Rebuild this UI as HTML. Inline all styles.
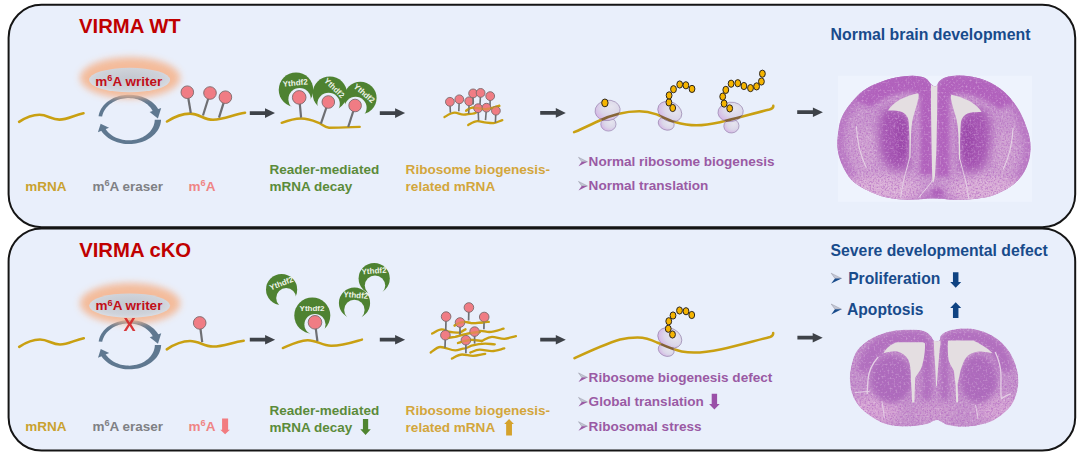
<!DOCTYPE html>
<html><head><meta charset="utf-8"><title>VIRMA</title>
<style>html,body{margin:0;padding:0;background:#fff;}svg{display:block;}
text{font-family:"Liberation Sans", sans-serif;font-weight:bold;}</style></head><body>
<svg width="1080" height="455" viewBox="0 0 1080 455">
<defs>
<filter id="glow" x="-30%" y="-60%" width="160%" height="220%"><feGaussianBlur stdDeviation="3.6"/></filter>
<radialGradient id="greyg" cx="0.5" cy="0.45" r="0.6"><stop offset="0" stop-color="#c3c7cf"/><stop offset="0.7" stop-color="#cfd3da"/><stop offset="1" stop-color="#dde0e7"/></radialGradient>
<radialGradient id="ribog" cx="0.62" cy="0.38" r="0.72" fx="0.66" fy="0.34"><stop offset="0" stop-color="#e6e5ef"/><stop offset="0.55" stop-color="#dbd7e9"/><stop offset="0.85" stop-color="#d6bde6"/><stop offset="1" stop-color="#d69ee2"/></radialGradient>
</defs>
<rect width="1080" height="455" fill="#fff"/>
<rect x="8.6" y="4.8" width="1066.6" height="222.4" rx="33" ry="33" fill="#e9effb" stroke="#151515" stroke-width="2"/>
<rect x="8.6" y="228.4" width="1066.6" height="222.2" rx="33" ry="33" fill="#e9effb" stroke="#151515" stroke-width="2"/>

<text x="79" y="33.1" font-size="20.3" fill="#c00000" >VIRMA WT</text>
<path d="M98.56,116.15 L98.86,114.59 L99.28,113.04 L99.84,111.52 L100.52,110.02 L101.33,108.57 L102.26,107.16 L103.30,105.79 L104.46,104.49 L105.73,103.24 L107.10,102.06 L108.57,100.96 L110.13,99.93 L111.77,98.98 L113.50,98.12 L115.29,97.35 L117.15,96.67 L119.06,96.09 L121.02,95.61 L123.01,95.22 L125.04,94.95 L127.09,94.77 L129.15,94.71 L131.22,94.74 L133.28,94.89 L135.32,95.14 L137.35,95.49 L139.34,95.95 L141.29,96.51 L143.19,97.17 L145.04,97.93 L146.82,98.78 L148.52,99.71 L150.15,100.74 L151.69,101.85 L153.13,103.03 L154.47,104.29 L155.71,105.62 L156.83,107.00 L157.83,108.44 L158.72,109.93 L152.87,111.51 L152.22,110.25 L151.46,109.03 L150.61,107.85 L149.66,106.71 L148.62,105.63 L147.49,104.61 L146.27,103.64 L144.98,102.75 L143.62,101.92 L142.19,101.16 L140.70,100.48 L139.16,99.88 L137.56,99.37 L135.93,98.94 L134.26,98.59 L132.57,98.34 L130.85,98.17 L129.13,98.10 L127.39,98.11 L125.67,98.22 L123.95,98.42 L122.24,98.71 L120.57,99.09 L118.92,99.56 L117.32,100.11 L115.76,100.75 L114.25,101.47 L112.80,102.26 L111.42,103.14 L110.12,104.08 L108.89,105.09 L107.74,106.17 L106.69,107.30 L105.72,108.49 L104.86,109.73 L104.10,111.01 L103.44,112.33 L102.89,113.69 L102.45,115.07 L102.13,116.47 Z" fill="#5f7890"/>
<path d="M161.16,107.99 L157.88,118.50 L149.65,111.98 Z" fill="#5f7890"/>
<path d="M161.05,119.74 L160.92,121.40 L160.66,123.06 L160.25,124.69 L159.70,126.31 L159.02,127.88 L158.21,129.42 L157.26,130.92 L156.20,132.36 L155.01,133.74 L153.70,135.05 L152.29,136.30 L150.78,137.47 L149.17,138.55 L147.47,139.55 L145.69,140.46 L143.84,141.27 L141.92,141.99 L139.95,142.60 L137.93,143.11 L135.87,143.51 L133.79,143.81 L131.68,143.99 L129.57,144.07 L127.45,144.03 L125.35,143.88 L123.26,143.63 L121.20,143.27 L119.17,142.80 L117.20,142.22 L115.27,141.55 L113.41,140.77 L111.62,139.90 L109.91,138.94 L108.29,137.90 L106.76,136.77 L105.33,135.56 L104.00,134.29 L102.79,132.94 L101.70,131.54 L100.73,130.08 L105.32,128.59 L106.15,129.84 L107.09,131.04 L108.12,132.18 L109.25,133.27 L110.46,134.29 L111.75,135.24 L113.12,136.13 L114.56,136.93 L116.06,137.66 L117.62,138.30 L119.22,138.86 L120.87,139.34 L122.55,139.72 L124.26,140.01 L125.99,140.21 L127.72,140.31 L129.47,140.33 L131.20,140.24 L132.93,140.07 L134.64,139.80 L136.32,139.44 L137.96,139.00 L139.57,138.46 L141.12,137.84 L142.62,137.14 L144.06,136.36 L145.42,135.50 L146.72,134.57 L147.93,133.58 L149.06,132.52 L150.09,131.41 L151.03,130.24 L151.88,129.03 L152.62,127.77 L153.25,126.47 L153.77,125.15 L154.19,123.80 L154.49,122.43 L154.67,121.05 L154.75,119.66 Z" fill="#5f7890"/>
<path d="M97.92,132.36 L100.63,123.67 L109.05,127.74 Z" fill="#5f7890"/>
<ellipse cx="130.1" cy="77.8" rx="50" ry="20.5" fill="#f5b793" filter="url(#glow)" opacity="0.92"/>
<ellipse cx="129.6" cy="80" rx="40.5" ry="12.2" fill="url(#greyg)"/>
<text x="95.3" y="85.7" font-size="13.5" fill="#c20f19">m<tspan font-size="9.18" dy="-4.86">6</tspan><tspan dy="4.86">A writer</tspan></text>
<path d="M19.1,121.9 C27.22,116.575 32.295,114.8 39.4,114.8 C47.4,114.8 51.4,119.6 59.4,119.6 C67.835,119.6 73.86,115.19 83.5,113.3" fill="none" stroke="#c9a012" stroke-width="2.6" stroke-linecap="round"/>
<path d="M167,121.5 C176.2,115.57499999999999 181.95,113.6 190,113.6 C199.2,113.6 203.8,119.8 213,119.8 C224.2,119.8 232.2,114.89999999999999 245,112.8" fill="none" stroke="#c9a012" stroke-width="2.6" stroke-linecap="round"/>
<line x1="187.3" y1="92.2" x2="190.8" y2="113" stroke="#6e6f73" stroke-width="2.2"/>
<circle cx="187.3" cy="92.2" r="6.3" fill="#f07c84" stroke="#7a6a6c" stroke-width="0.9"/>
<line x1="210" y1="93" x2="203" y2="115.5" stroke="#6e6f73" stroke-width="2.2"/>
<circle cx="210" cy="93" r="6.3" fill="#f07c84" stroke="#7a6a6c" stroke-width="0.9"/>
<line x1="225.4" y1="97.2" x2="219" y2="117.7" stroke="#6e6f73" stroke-width="2.2"/>
<circle cx="225.4" cy="97.2" r="6.3" fill="#f07c84" stroke="#7a6a6c" stroke-width="0.9"/>
<path d="M249.8,111.25 H265.0 V108.3 L275,113.1 L265.0,117.89999999999999 V114.94999999999999 H249.8 Z" fill="#3e4248"/>
<path d="M281.7,122.8 C288,120.5 294,118.6 301,118.5 C309,118.5 314,121 319.6,123.2 C323,125 325,127.5 329,127.7 C340,127.7 350,127.2 359.7,126.9" fill="none" stroke="#c9a012" stroke-width="2.4" stroke-linecap="round"/>
<mask id="m19" maskUnits="userSpaceOnUse" x="0" y="0" width="1080" height="455"><rect width="1080" height="455" fill="#fff"/><circle cx="299.6" cy="99.2" r="11.2" fill="#000"/></mask>
<circle cx="296" cy="89.8" r="17.3" fill="#4e8231" mask="url(#m19)"/>
<text x="295.45" y="85.57" font-size="8.0" fill="#eef4e8" text-anchor="middle" transform="rotate(-5 295.45 85.57)">Ythdf2</text>
<line x1="299.2" y1="97.4" x2="301.1" y2="117.7" stroke="#6e6f73" stroke-width="2.2"/>
<circle cx="299.2" cy="97.4" r="6.8" fill="#f07c84" stroke="#7a6a6c" stroke-width="0.9"/>
<mask id="m24" maskUnits="userSpaceOnUse" x="0" y="0" width="1080" height="455"><rect width="1080" height="455" fill="#fff"/><circle cx="328.6" cy="104" r="11.2" fill="#000"/></mask>
<circle cx="329.8" cy="93.6" r="17.2" fill="#4e8231" mask="url(#m24)"/>
<text x="332.50" y="89.87" font-size="8.0" fill="#eef4e8" text-anchor="middle" transform="rotate(44 332.50 89.87)">Ythdf2</text>
<line x1="328.3" y1="102" x2="320.9" y2="123.7" stroke="#6e6f73" stroke-width="2.2"/>
<circle cx="328.3" cy="102" r="6.3" fill="#f07c84" stroke="#7a6a6c" stroke-width="0.9"/>
<mask id="m29" maskUnits="userSpaceOnUse" x="0" y="0" width="1080" height="455"><rect width="1080" height="455" fill="#fff"/><circle cx="355.6" cy="107.8" r="11" fill="#000"/></mask>
<circle cx="360.3" cy="98" r="16.3" fill="#4e8231" mask="url(#m29)"/>
<text x="362.51" y="95.37" font-size="8.0" fill="#eef4e8" text-anchor="middle" transform="rotate(41 362.51 95.37)">Ythdf2</text>
<line x1="355.1" y1="105.5" x2="348.2" y2="127" stroke="#6e6f73" stroke-width="2.2"/>
<circle cx="355.1" cy="105.5" r="6.3" fill="#f07c84" stroke="#7a6a6c" stroke-width="0.9"/>
<path d="M379.8,111.25 H395.1 V108.3 L405.1,113.1 L395.1,117.89999999999999 V114.94999999999999 H379.8 Z" fill="#3e4248"/>
<path d="M444.5,117.1 C448,115 451,112.7 454.8,112.7 C458,112.7 460,114.7 463.7,114.7 C467,114.7 469,113.7 472.6,113.7 C474.5,113.5 476,112.5 477.6,111.7" fill="none" stroke="#c9a012" stroke-width="2.3" stroke-linecap="round"/>
<path d="M468.2,125.1 C471,123.5 474,121.1 477.6,121.1 C481,121.1 483,122.6 486.5,122.6 C489,122.9 491,123.1 493.4,123.1 C497,122.5 499.5,121 502.3,120.1" fill="none" stroke="#c9a012" stroke-width="2.3" stroke-linecap="round"/>
<path d="M466.2,110.7 C468.5,109 470,107.7 472.6,107.7 C478,107.8 482,109.5 487,109 C492,108.5 496,107 499.3,105.8" fill="none" stroke="#c9a012" stroke-width="2.3" stroke-linecap="round"/>
<line x1="449.9" y1="101.8" x2="450.4" y2="112.7" stroke="#6e6f73" stroke-width="1.6"/>
<circle cx="449.9" cy="101.8" r="4.4" fill="#f07c84" stroke="#7a6a6c" stroke-width="0.9"/>
<line x1="459.3" y1="99.3" x2="458.8" y2="111.2" stroke="#6e6f73" stroke-width="1.6"/>
<circle cx="459.3" cy="99.3" r="4.4" fill="#f07c84" stroke="#7a6a6c" stroke-width="0.9"/>
<line x1="469.2" y1="101.3" x2="468.7" y2="113.7" stroke="#6e6f73" stroke-width="1.6"/>
<circle cx="469.2" cy="101.3" r="4.4" fill="#f07c84" stroke="#7a6a6c" stroke-width="0.9"/>
<line x1="473.1" y1="93.4" x2="473.1" y2="104.5" stroke="#6e6f73" stroke-width="1.6"/>
<circle cx="473.1" cy="93.4" r="4.4" fill="#f07c84" stroke="#7a6a6c" stroke-width="0.9"/>
<line x1="480.6" y1="92.9" x2="480.0" y2="104.8" stroke="#6e6f73" stroke-width="1.6"/>
<circle cx="480.6" cy="92.9" r="4.4" fill="#f07c84" stroke="#7a6a6c" stroke-width="0.9"/>
<line x1="490.2" y1="96.1" x2="490" y2="108" stroke="#6e6f73" stroke-width="1.6"/>
<circle cx="490.2" cy="96.1" r="4.4" fill="#f07c84" stroke="#7a6a6c" stroke-width="0.9"/>
<line x1="478.1" y1="108.2" x2="478.6" y2="120.6" stroke="#6e6f73" stroke-width="1.6"/>
<circle cx="478.1" cy="108.2" r="4.4" fill="#f07c84" stroke="#7a6a6c" stroke-width="0.9"/>
<line x1="486.5" y1="107.7" x2="485.5" y2="120.1" stroke="#6e6f73" stroke-width="1.6"/>
<circle cx="486.5" cy="107.7" r="4.4" fill="#f07c84" stroke="#7a6a6c" stroke-width="0.9"/>
<line x1="495.9" y1="110.7" x2="495.4" y2="122.6" stroke="#6e6f73" stroke-width="1.6"/>
<circle cx="495.9" cy="110.7" r="4.4" fill="#f07c84" stroke="#7a6a6c" stroke-width="0.9"/>
<path d="M466.2,110.7 C468.5,109 470,107.7 472.6,107.7 C478,107.8 482,109.5 487,109 C492,108.5 496,107 499.3,105.8" fill="none" stroke="#c9a012" stroke-width="2.3" stroke-linecap="round" opacity="0.45"/>
<path d="M540.2,111.05000000000001 H555.8 V108.10000000000001 L565.8,112.9 L555.8,117.7 V114.75 H540.2 Z" fill="#3e4248"/>
<path d="M574.1,132.2 C584,128 592,124 598.6,121 C606,117.5 612,115.5 618.9,113.8 C626,112 632,111.3 639.3,111.3 C646,111.3 651,112.5 656.6,114.4 C663,117 668,120 674.9,122 C682,124 689,125.3 696.3,125.3 C705,125.3 712,124 720,122.2 C738,118 755,113 769.5,109.5 C772.5,108.7 773.5,107.5 773.3,105.8" fill="none" stroke="#c9a012" stroke-width="2.5" stroke-linecap="round"/>
<ellipse cx="608.4" cy="124.2" rx="7.6" ry="6.9" transform="rotate(0 608.4 124.2)" fill="url(#ribog)" stroke="#9a88b0" stroke-width="0.7"/>
<ellipse cx="607.6" cy="110.4" rx="12.6" ry="10.2" transform="rotate(-8 607.6 110.4)" fill="url(#ribog)" stroke="#9a88b0" stroke-width="0.7"/>
<ellipse cx="666.2" cy="123.6" rx="8.2" ry="6.3" transform="rotate(22 666.2 123.6)" fill="url(#ribog)" stroke="#9a88b0" stroke-width="0.7"/>
<ellipse cx="669.8" cy="111.6" rx="12.6" ry="9.6" transform="rotate(28 669.8 111.6)" fill="url(#ribog)" stroke="#9a88b0" stroke-width="0.7"/>
<ellipse cx="731.4" cy="126" rx="7.6" ry="7" transform="rotate(-4 731.4 126)" fill="url(#ribog)" stroke="#9a88b0" stroke-width="0.7"/>
<ellipse cx="730.6" cy="111.9" rx="12.7" ry="9.7" transform="rotate(-6 730.6 111.9)" fill="url(#ribog)" stroke="#9a88b0" stroke-width="0.7"/>
<clipPath id="rc1"><ellipse cx="607.6" cy="110.4" rx="12.6" ry="10.2" transform="rotate(-8 607.6 110.4)"/><ellipse cx="608.4" cy="124.2" rx="7.6" ry="6.9" transform="rotate(0 608.4 124.2)"/><ellipse cx="669.8" cy="111.6" rx="12.6" ry="9.6" transform="rotate(28 669.8 111.6)"/><ellipse cx="666.2" cy="123.6" rx="8.2" ry="6.3" transform="rotate(22 666.2 123.6)"/><ellipse cx="730.6" cy="111.9" rx="12.7" ry="9.7" transform="rotate(-6 730.6 111.9)"/><ellipse cx="731.4" cy="126" rx="7.6" ry="7" transform="rotate(-4 731.4 126)"/></clipPath>
<path d="M574.1,132.2 C584,128 592,124 598.6,121 C606,117.5 612,115.5 618.9,113.8 C626,112 632,111.3 639.3,111.3 C646,111.3 651,112.5 656.6,114.4 C663,117 668,120 674.9,122 C682,124 689,125.3 696.3,125.3 C705,125.3 712,124 720,122.2 C738,118 755,113 769.5,109.5 C772.5,108.7 773.5,107.5 773.3,105.8" fill="none" stroke="#7d5a25" stroke-width="2.5" clip-path="url(#rc1)" opacity="0.9"/>
<ellipse cx="604.9" cy="102.9" rx="3.2" ry="3.9" fill="#f5b400" stroke="#2b2520" stroke-width="1"/>
<ellipse cx="672.7" cy="108" rx="2.9" ry="3.6" fill="#f5b400" stroke="#2b2520" stroke-width="1"/>
<ellipse cx="668.9" cy="102.4" rx="2.9" ry="3.6" fill="#f5b400" stroke="#2b2520" stroke-width="1"/>
<ellipse cx="669.1" cy="95.4" rx="2.9" ry="3.6" fill="#f5b400" stroke="#2b2520" stroke-width="1"/>
<ellipse cx="673.5" cy="89.2" rx="2.9" ry="3.6" fill="#f5b400" stroke="#2b2520" stroke-width="1"/>
<ellipse cx="679.7" cy="84.5" rx="2.9" ry="3.6" fill="#f5b400" stroke="#2b2520" stroke-width="1"/>
<ellipse cx="685.9" cy="85.3" rx="2.9" ry="3.6" fill="#f5b400" stroke="#2b2520" stroke-width="1"/>
<ellipse cx="692" cy="88.9" rx="2.9" ry="3.6" fill="#f5b400" stroke="#2b2520" stroke-width="1"/>
<ellipse cx="729.7" cy="108.4" rx="2.9" ry="3.6" fill="#f5b400" stroke="#2b2520" stroke-width="1"/>
<ellipse cx="724.1" cy="103.6" rx="2.9" ry="3.6" fill="#f5b400" stroke="#2b2520" stroke-width="1"/>
<ellipse cx="722.7" cy="96.6" rx="2.9" ry="3.6" fill="#f5b400" stroke="#2b2520" stroke-width="1"/>
<ellipse cx="725.8" cy="89.9" rx="2.9" ry="3.6" fill="#f5b400" stroke="#2b2520" stroke-width="1"/>
<ellipse cx="731.1" cy="83.7" rx="2.9" ry="3.6" fill="#f5b400" stroke="#2b2520" stroke-width="1"/>
<ellipse cx="737.8" cy="83.2" rx="2.9" ry="3.6" fill="#f5b400" stroke="#2b2520" stroke-width="1"/>
<ellipse cx="743.9" cy="86" rx="2.9" ry="3.6" fill="#f5b400" stroke="#2b2520" stroke-width="1"/>
<ellipse cx="750.5" cy="88.1" rx="2.9" ry="3.6" fill="#f5b400" stroke="#2b2520" stroke-width="1"/>
<ellipse cx="756.6" cy="86.4" rx="2.9" ry="3.6" fill="#f5b400" stroke="#2b2520" stroke-width="1"/>
<ellipse cx="761.4" cy="81.5" rx="2.9" ry="3.6" fill="#f5b400" stroke="#2b2520" stroke-width="1"/>
<ellipse cx="762.4" cy="73.7" rx="2.9" ry="3.6" fill="#f5b400" stroke="#2b2520" stroke-width="1"/>
<path d="M797.2,110.35000000000001 H812.9 V107.4 L822.9,112.2 L812.9,117.0 V114.05 H797.2 Z" fill="#3e4248"/>
<text x="25.2" y="190.8" font-size="13.5" fill="#c9a230" >mRNA</text>
<text x="92.4" y="190.8" font-size="13.5" fill="#7f8084">m<tspan font-size="9.18" dy="-4.86">6</tspan><tspan dy="4.86">A eraser</tspan></text>
<text x="188.6" y="190.8" font-size="13.5" fill="#ef8585">m<tspan font-size="9.18" dy="-4.86">6</tspan><tspan dy="4.86">A</tspan></text>
<text x="269.6" y="174.4" font-size="13.5" fill="#5b8b3a" >Reader-mediated</text>
<text x="269.6" y="191" font-size="13.5" fill="#5b8b3a" >mRNA decay</text>
<text x="405.6" y="174.4" font-size="13.55" fill="#d3a63c" >Ribosome biogenesis-</text>
<text x="405.6" y="191" font-size="13.55" fill="#d3a63c" >related mRNA</text>
<path d="M578.5,157.3 L587.5,161.8 L581.74,161.8 Z" fill="#9a9aa8" opacity="0.45"/>
<path d="M578.5,157.3 L587.5,161.8 L581.74,161.8 Z" fill="none" stroke="#7a7a8a" stroke-width="0.6" opacity="0.6"/>
<path d="M578.5,166.3 L587.5,161.8 L581.74,161.8 Z" fill="#9a5aa4"/>
<text x="588.6" y="166.3" font-size="13.55" fill="#9a5aa4" >Normal ribosome biogenesis</text>
<path d="M578.5,181.4 L587.5,185.9 L581.74,185.9 Z" fill="#9a9aa8" opacity="0.45"/>
<path d="M578.5,181.4 L587.5,185.9 L581.74,185.9 Z" fill="none" stroke="#7a7a8a" stroke-width="0.6" opacity="0.6"/>
<path d="M578.5,190.4 L587.5,185.9 L581.74,185.9 Z" fill="#9a5aa4"/>
<text x="588.6" y="190.4" font-size="13.55" fill="#9a5aa4" >Normal translation</text>
<text x="830.6" y="39.8" font-size="15.85" fill="#184b8b" >Normal brain development</text>
<text x="79.2" y="257" font-size="20.3" fill="#c00000" >VIRMA cKO</text>
<path d="M98.66,341.45 L98.96,339.89 L99.38,338.34 L99.94,336.82 L100.62,335.32 L101.43,333.87 L102.36,332.46 L103.40,331.09 L104.56,329.79 L105.83,328.54 L107.20,327.36 L108.67,326.26 L110.23,325.23 L111.87,324.28 L113.60,323.42 L115.39,322.65 L117.25,321.97 L119.16,321.39 L121.12,320.91 L123.11,320.52 L125.14,320.25 L127.19,320.07 L129.25,320.01 L131.32,320.04 L133.38,320.19 L135.42,320.44 L137.45,320.79 L139.44,321.25 L141.39,321.81 L143.29,322.47 L145.14,323.23 L146.92,324.08 L148.62,325.01 L150.25,326.04 L151.79,327.15 L153.23,328.33 L154.57,329.59 L155.81,330.92 L156.93,332.30 L157.93,333.74 L158.82,335.23 L152.97,336.81 L152.32,335.55 L151.56,334.33 L150.71,333.15 L149.76,332.01 L148.72,330.93 L147.59,329.91 L146.37,328.94 L145.08,328.05 L143.72,327.22 L142.29,326.46 L140.80,325.78 L139.26,325.18 L137.66,324.67 L136.03,324.24 L134.36,323.89 L132.67,323.64 L130.95,323.47 L129.23,323.40 L127.49,323.41 L125.77,323.52 L124.05,323.72 L122.34,324.01 L120.67,324.39 L119.02,324.86 L117.42,325.41 L115.86,326.05 L114.35,326.77 L112.90,327.56 L111.52,328.44 L110.22,329.38 L108.99,330.39 L107.84,331.47 L106.79,332.60 L105.82,333.79 L104.96,335.03 L104.20,336.31 L103.54,337.63 L102.99,338.99 L102.55,340.37 L102.23,341.77 Z" fill="#5f7890"/>
<path d="M161.26,333.29 L157.98,343.80 L149.75,337.28 Z" fill="#5f7890"/>
<path d="M161.15,345.04 L161.02,346.70 L160.76,348.36 L160.35,349.99 L159.80,351.61 L159.12,353.18 L158.31,354.72 L157.36,356.22 L156.30,357.66 L155.11,359.04 L153.80,360.35 L152.39,361.60 L150.88,362.77 L149.27,363.85 L147.57,364.85 L145.79,365.76 L143.94,366.57 L142.02,367.29 L140.05,367.90 L138.03,368.41 L135.97,368.81 L133.89,369.11 L131.78,369.29 L129.67,369.37 L127.55,369.33 L125.45,369.18 L123.36,368.93 L121.30,368.57 L119.27,368.10 L117.30,367.52 L115.37,366.85 L113.51,366.07 L111.72,365.20 L110.01,364.24 L108.39,363.20 L106.86,362.07 L105.43,360.86 L104.10,359.59 L102.89,358.24 L101.80,356.84 L100.83,355.38 L105.42,353.89 L106.25,355.14 L107.19,356.34 L108.22,357.48 L109.35,358.57 L110.56,359.59 L111.85,360.54 L113.22,361.43 L114.66,362.23 L116.16,362.96 L117.72,363.60 L119.32,364.16 L120.97,364.64 L122.65,365.02 L124.36,365.31 L126.09,365.51 L127.82,365.61 L129.57,365.63 L131.30,365.54 L133.03,365.37 L134.74,365.10 L136.42,364.74 L138.06,364.30 L139.67,363.76 L141.22,363.14 L142.72,362.44 L144.16,361.66 L145.52,360.80 L146.82,359.87 L148.03,358.88 L149.16,357.82 L150.19,356.71 L151.13,355.54 L151.98,354.33 L152.72,353.07 L153.35,351.77 L153.87,350.45 L154.29,349.10 L154.59,347.73 L154.77,346.35 L154.85,344.96 Z" fill="#5f7890"/>
<path d="M98.02,357.66 L100.73,348.97 L109.15,353.04 Z" fill="#5f7890"/>
<ellipse cx="130.1" cy="303.40000000000003" rx="50" ry="20.5" fill="#f5b793" filter="url(#glow)" opacity="0.92"/>
<ellipse cx="129.6" cy="305.6" rx="40.5" ry="12.2" fill="url(#greyg)"/>
<text x="95.5" y="310.4" font-size="13.5" fill="#c20f19">m<tspan font-size="9.18" dy="-4.86">6</tspan><tspan dy="4.86">A writer</tspan></text>
<text x="129.6" y="331.4" font-size="18.2" fill="#d6282a" text-anchor="middle" opacity="0.92">X</text>
<path d="M19.2,346.8 C27.52,341.325 32.72,339.5 40,339.5 C48.0,339.5 52.0,344.5 60,344.5 C68.33,344.5 74.28,340.09 83.8,338.2" fill="none" stroke="#c9a012" stroke-width="2.6" stroke-linecap="round"/>
<path d="M166.8,349.3 C176.08,343.075 181.88,341 190,341 C199.2,341 203.8,346.5 213,346.5 C223.745,346.5 231.42,342.44 243.7,340.7" fill="none" stroke="#c9a012" stroke-width="2.6" stroke-linecap="round"/>
<line x1="199.7" y1="322.9" x2="202.2" y2="342.2" stroke="#6e6f73" stroke-width="2.2"/>
<circle cx="199.7" cy="322.9" r="6.3" fill="#f07c84" stroke="#7a6a6c" stroke-width="0.9"/>
<path d="M249.8,337.84999999999997 H265.1 V334.9 L275.1,339.7 L265.1,344.5 V341.55 H249.8 Z" fill="#3e4248"/>
<path d="M282.8,348.1 C290,345 298,340.5 307.5,340.2 C316,340 322,345.5 331,345.8 C342,346 352,342.5 362,339.6" fill="none" stroke="#c9a012" stroke-width="2.4" stroke-linecap="round"/>
<mask id="m118" maskUnits="userSpaceOnUse" x="0" y="0" width="1080" height="455"><rect width="1080" height="455" fill="#fff"/><circle cx="286.2" cy="298" r="10" fill="#000"/></mask>
<circle cx="281.6" cy="289.5" r="15.6" fill="#4e8231" mask="url(#m118)"/>
<text x="282.33" y="285.99" font-size="8.0" fill="#eef4e8" text-anchor="middle" transform="rotate(-21 282.33 285.99)">Ythdf2</text>
<mask id="m121" maskUnits="userSpaceOnUse" x="0" y="0" width="1080" height="455"><rect width="1080" height="455" fill="#fff"/><circle cx="315" cy="324.5" r="10.6" fill="#000"/></mask>
<circle cx="312.3" cy="315.5" r="18" fill="#4e8231" mask="url(#m121)"/>
<text x="312.00" y="311.38" font-size="8.0" fill="#eef4e8" text-anchor="middle" transform="rotate(0 312.00 311.38)">Ythdf2</text>
<line x1="315" y1="322.3" x2="317.4" y2="341.1" stroke="#6e6f73" stroke-width="2.2"/>
<circle cx="315" cy="322.3" r="6.8" fill="#f07c84" stroke="#7a6a6c" stroke-width="0.9"/>
<mask id="m126" maskUnits="userSpaceOnUse" x="0" y="0" width="1080" height="455"><rect width="1080" height="455" fill="#fff"/><circle cx="354.4" cy="310" r="10.2" fill="#000"/></mask>
<circle cx="354.5" cy="303" r="15.6" fill="#4e8231" mask="url(#m126)"/>
<text x="355.60" y="297.87" font-size="8.0" fill="#eef4e8" text-anchor="middle" transform="rotate(4 355.60 297.87)">Ythdf2</text>
<mask id="m129" maskUnits="userSpaceOnUse" x="0" y="0" width="1080" height="455"><rect width="1080" height="455" fill="#fff"/><circle cx="375" cy="285.6" r="10.2" fill="#000"/></mask>
<circle cx="374.2" cy="278.5" r="15.6" fill="#4e8231" mask="url(#m129)"/>
<text x="374.20" y="273.57" font-size="8.0" fill="#eef4e8" text-anchor="middle" transform="rotate(-4 374.20 273.57)">Ythdf2</text>
<path d="M379.8,337.84999999999997 H395.1 V334.9 L405.1,339.7 L395.1,344.5 V341.55 H379.8 Z" fill="#3e4248"/>
<path d="M432.1,333.6 C436,331.5 438.5,329.3 441.6,329.3 C445,329.3 447,332 450.5,332 C454,332.3 457,332.7 459.3,332.7 C462,332 463.5,330 465.5,329.3" fill="none" stroke="#c9a012" stroke-width="2.3" stroke-linecap="round" opacity="1"/>
<path d="M480.5,330.9 C484,331 486,332 489.3,332 C494,332 499,330 503.6,328.6" fill="none" stroke="#c9a012" stroke-width="2.3" stroke-linecap="round" opacity="1"/>
<path d="M481.8,341 C485,339.5 488,336.8 492,336.8 C496,336.8 500,338.8 504.3,338.8 C508,338.6 512,337 515.9,336.1" fill="none" stroke="#c9a012" stroke-width="2.3" stroke-linecap="round" opacity="1"/>
<path d="M430.7,352.5 C434,350 437,347 440.3,347 C446,347 450,350.4 455.3,350.4 C459,350.4 461.5,348.4 464.8,348.4 C467,348 469.5,346.3 471.6,345.7 C476,344.5 480,343.6 485.2,343.6 C489,343.6 492,344.3 494.8,344.3" fill="none" stroke="#c9a012" stroke-width="2.3" stroke-linecap="round" opacity="1"/>
<path d="M451.9,358.6 C455,357 458.5,354.5 462.1,354.5 C466,354.5 469,355.9 473,355.9 C477,355.8 481,354.5 485.2,353.8" fill="none" stroke="#c9a012" stroke-width="2.3" stroke-linecap="round" opacity="1"/>
<path d="M470.3,352.6 C473,351.5 476.5,349.7 479.8,349.7 C484,349.7 487.5,351.1 492,351.1 C496,351 500,349.5 504.3,348.4" fill="none" stroke="#c9a012" stroke-width="2.3" stroke-linecap="round" opacity="1"/>
<path d="M454.6,325.5 C458,323 461,321.8 464.8,321.8 C468,321.8 470,323.2 473,323.2 C477,323.2 479,322.5 482.5,322.5 C485,322.3 487,322 488.7,321.8" fill="none" stroke="#c9a012" stroke-width="2.3" stroke-linecap="round" opacity="1"/>
<path d="M448.4,337.8 C451,337.3 453,336.8 455.3,336.8 C460,336 464,334 468.9,333.4 C472,333 476,332.3 479.8,332" fill="none" stroke="#c9a012" stroke-width="2.3" stroke-linecap="round" opacity="1"/>
<path d="M458,343 C462,341.5 466,340.5 470,340 C474,339.5 478,340.5 481.8,341" fill="none" stroke="#c9a012" stroke-width="2.3" stroke-linecap="round" opacity="1"/>
<line x1="446.1" y1="316.6" x2="445.7" y2="332" stroke="#6e6f73" stroke-width="1.7"/>
<circle cx="446.1" cy="316.6" r="4.8" fill="#f07c84" stroke="#7a6a6c" stroke-width="0.9"/>
<line x1="468.9" y1="307.5" x2="468.6" y2="320.4" stroke="#6e6f73" stroke-width="1.7"/>
<circle cx="468.9" cy="307.5" r="4.8" fill="#f07c84" stroke="#7a6a6c" stroke-width="0.9"/>
<line x1="484.2" y1="317" x2="483.9" y2="329.3" stroke="#6e6f73" stroke-width="1.7"/>
<circle cx="484.2" cy="317" r="4.8" fill="#f07c84" stroke="#7a6a6c" stroke-width="0.9"/>
<line x1="460" y1="322.5" x2="460" y2="334.8" stroke="#6e6f73" stroke-width="1.7"/>
<circle cx="460" cy="322.5" r="4.8" fill="#f07c84" stroke="#7a6a6c" stroke-width="0.9"/>
<line x1="445.4" y1="335.2" x2="445" y2="347.7" stroke="#6e6f73" stroke-width="1.7"/>
<circle cx="445.4" cy="335.2" r="4.8" fill="#f07c84" stroke="#7a6a6c" stroke-width="0.9"/>
<line x1="474.6" y1="331.6" x2="474.6" y2="343.6" stroke="#6e6f73" stroke-width="1.7"/>
<circle cx="474.6" cy="331.6" r="4.8" fill="#f07c84" stroke="#7a6a6c" stroke-width="0.9"/>
<line x1="465.9" y1="340.2" x2="465.9" y2="353.2" stroke="#6e6f73" stroke-width="1.7"/>
<circle cx="465.9" cy="340.2" r="4.8" fill="#f07c84" stroke="#7a6a6c" stroke-width="0.9"/>
<path d="M454.6,325.5 C458,323 461,321.8 464.8,321.8 C468,321.8 470,323.2 473,323.2 C477,323.2 479,322.5 482.5,322.5 C485,322.3 487,322 488.7,321.8" fill="none" stroke="#c9a012" stroke-width="2.3" stroke-linecap="round" opacity="0.45"/>
<path d="M448.4,337.8 C451,337.3 453,336.8 455.3,336.8 C460,336 464,334 468.9,333.4 C472,333 476,332.3 479.8,332" fill="none" stroke="#c9a012" stroke-width="2.3" stroke-linecap="round" opacity="0.45"/>
<path d="M458,343 C462,341.5 466,340.5 470,340 C474,339.5 478,340.5 481.8,341" fill="none" stroke="#c9a012" stroke-width="2.3" stroke-linecap="round" opacity="0.45"/>
<path d="M540.2,337.84999999999997 H555.8 V334.9 L565.8,339.7 L555.8,344.5 V341.55 H540.2 Z" fill="#3e4248"/>
<path d="M574.5,358.2 C590,351 605,344 620,339.5 C626,338 632,337.4 637.5,337.4 C646,337.5 652,340 657,342.5 C665,346 672,349.5 681.7,351.5 C686,352.3 690,352.6 694,352.6 C715,352.6 742,344 770,337 C772.5,336.3 773.3,335 773.2,333" fill="none" stroke="#c9a012" stroke-width="2.5" stroke-linecap="round"/>
<ellipse cx="666.2" cy="349.8" rx="8.2" ry="6.3" transform="rotate(22 666.2 349.8)" fill="url(#ribog)" stroke="#9a88b0" stroke-width="0.7"/>
<ellipse cx="669.8" cy="337.9" rx="12.6" ry="9.6" transform="rotate(28 669.8 337.9)" fill="url(#ribog)" stroke="#9a88b0" stroke-width="0.7"/>
<clipPath id="rc2"><ellipse cx="669.8" cy="337.9" rx="12.6" ry="9.6" transform="rotate(28 669.8 337.9)"/><ellipse cx="666.2" cy="349.8" rx="8.2" ry="6.3" transform="rotate(22 666.2 349.8)"/></clipPath>
<path d="M574.5,358.2 C590,351 605,344 620,339.5 C626,338 632,337.4 637.5,337.4 C646,337.5 652,340 657,342.5 C665,346 672,349.5 681.7,351.5 C686,352.3 690,352.6 694,352.6 C715,352.6 742,344 770,337 C772.5,336.3 773.3,335 773.2,333" fill="none" stroke="#7d5a25" stroke-width="2.5" clip-path="url(#rc2)" opacity="0.9"/>
<ellipse cx="672.5" cy="334.5" rx="2.9" ry="3.6" fill="#f5b400" stroke="#2b2520" stroke-width="1"/>
<ellipse cx="668.25" cy="328.75" rx="2.9" ry="3.6" fill="#f5b400" stroke="#2b2520" stroke-width="1"/>
<ellipse cx="668.75" cy="321.25" rx="2.9" ry="3.6" fill="#f5b400" stroke="#2b2520" stroke-width="1"/>
<ellipse cx="673" cy="315.5" rx="2.9" ry="3.6" fill="#f5b400" stroke="#2b2520" stroke-width="1"/>
<ellipse cx="679.5" cy="310.5" rx="2.9" ry="3.6" fill="#f5b400" stroke="#2b2520" stroke-width="1"/>
<ellipse cx="686" cy="311.25" rx="2.9" ry="3.6" fill="#f5b400" stroke="#2b2520" stroke-width="1"/>
<ellipse cx="691.75" cy="315" rx="2.9" ry="3.6" fill="#f5b400" stroke="#2b2520" stroke-width="1"/>
<path d="M797.4,335.84999999999997 H812.7 V332.9 L822.7,337.7 L812.7,342.5 V339.55 H797.4 Z" fill="#3e4248"/>
<text x="25.2" y="431.3" font-size="13.5" fill="#c9a230" >mRNA</text>
<text x="92.4" y="431.3" font-size="13.5" fill="#7f8084">m<tspan font-size="9.18" dy="-4.86">6</tspan><tspan dy="4.86">A eraser</tspan></text>
<text x="188.6" y="431.3" font-size="13.5" fill="#ef8585">m<tspan font-size="9.18" dy="-4.86">6</tspan><tspan dy="4.86">A</tspan></text>
<path d="M225.10000000000002,434.2 L229.9,429.804 H228.12400000000002 V418.5 H222.07600000000002 V429.804 H220.3 Z" fill="#f27c80"/>
<text x="269.6" y="415" font-size="13.5" fill="#5b8b3a" >Reader-mediated</text>
<text x="269.6" y="431.7" font-size="13.5" fill="#5b8b3a" >mRNA decay</text>
<path d="M365.55,435.1 L370.8,429.14300000000003 H368.175 V419 H362.925 V429.14300000000003 H360.3 Z" fill="#4f8430"/>
<text x="405.6" y="415" font-size="13.55" fill="#d3a63c" >Ribosome biogenesis-</text>
<text x="405.6" y="431.7" font-size="13.55" fill="#d3a63c" >related mRNA</text>
<path d="M509.04999999999995,419.1 L513.9,423.99 H511.9599999999999 V435.4 H506.14 V423.99 H504.2 Z" fill="#d5a22c"/>
<path d="M578.5,372.9 L587.5,377.4 L581.74,377.4 Z" fill="#9a9aa8" opacity="0.45"/>
<path d="M578.5,372.9 L587.5,377.4 L581.74,377.4 Z" fill="none" stroke="#7a7a8a" stroke-width="0.6" opacity="0.6"/>
<path d="M578.5,381.9 L587.5,377.4 L581.74,377.4 Z" fill="#9a5aa4"/>
<text x="588.6" y="381.9" font-size="13.55" fill="#9a5aa4" >Ribosome biogenesis defect</text>
<path d="M578.5,397.4 L587.5,401.9 L581.74,401.9 Z" fill="#9a9aa8" opacity="0.45"/>
<path d="M578.5,397.4 L587.5,401.9 L581.74,401.9 Z" fill="none" stroke="#7a7a8a" stroke-width="0.6" opacity="0.6"/>
<path d="M578.5,406.4 L587.5,401.9 L581.74,401.9 Z" fill="#9a5aa4"/>
<text x="588.6" y="406.4" font-size="13.55" fill="#9a5aa4" >Global translation</text>
<path d="M578.5,421.7 L587.5,426.2 L581.74,426.2 Z" fill="#9a9aa8" opacity="0.45"/>
<path d="M578.5,421.7 L587.5,426.2 L581.74,426.2 Z" fill="none" stroke="#7a7a8a" stroke-width="0.6" opacity="0.6"/>
<path d="M578.5,430.7 L587.5,426.2 L581.74,426.2 Z" fill="#9a5aa4"/>
<text x="588.6" y="430.7" font-size="13.55" fill="#9a5aa4" >Ribosomal stress</text>
<path d="M714.4000000000001,409.4 L719.7,404.06199999999995 H717.1030000000001 V393.7 H711.6970000000001 V404.06199999999995 H709.1 Z" fill="#9a50a8"/>
<text x="830.6" y="256.3" font-size="15.75" fill="#184b8b" >Severe developmental defect</text>
<path d="M831.2,273.20000000000005 L841.6,278.40000000000003 L834.9440000000001,278.40000000000003 Z" fill="#9a9aa8" opacity="0.45"/>
<path d="M831.2,273.20000000000005 L841.6,278.40000000000003 L834.9440000000001,278.40000000000003 Z" fill="none" stroke="#7a7a8a" stroke-width="0.6" opacity="0.6"/>
<path d="M831.2,283.6 L841.6,278.40000000000003 L834.9440000000001,278.40000000000003 Z" fill="#184b8b"/>
<text x="848.2" y="284" font-size="15.65" fill="#184b8b" >Proliferation</text>
<path d="M955.7,287.7 L961.2,281.965 H958.45 V272.2 H952.95 V281.965 H950.2 Z" fill="#0f4383"/>
<path d="M831.2,304.0 L841.6,309.2 L834.9440000000001,309.2 Z" fill="#9a9aa8" opacity="0.45"/>
<path d="M831.2,304.0 L841.6,309.2 L834.9440000000001,309.2 Z" fill="none" stroke="#7a7a8a" stroke-width="0.6" opacity="0.6"/>
<path d="M831.2,314.4 L841.6,309.2 L834.9440000000001,309.2 Z" fill="#184b8b"/>
<text x="847" y="314.9" font-size="15.65" fill="#184b8b" >Apoptosis</text>
<path d="M955.7,302.3 L961.2,308.072 H958.45 V317.9 H952.95 V308.072 H950.2 Z" fill="#0f4383"/>
<defs>
<filter id="pinkshift" x="0" y="0" width="100%" height="100%" color-interpolation-filters="sRGB"><feColorMatrix type="matrix" values="1 0 0 0 0.03  0 1 0 0 0.005  0 0 1 0 -0.005  0 0 0 1 0"/></filter>
<filter id="bblur2" x="-50%" y="-50%" width="200%" height="200%"><feGaussianBlur stdDeviation="2"/></filter>
<filter id="bblur3" x="-20%" y="-20%" width="140%" height="140%"><feGaussianBlur stdDeviation="2.5"/></filter>
<filter id="bblur4" x="-30%" y="-30%" width="160%" height="160%"><feGaussianBlur stdDeviation="4"/></filter>
<filter id="bblur6" x="-40%" y="-40%" width="180%" height="180%"><feGaussianBlur stdDeviation="6"/></filter>
<filter id="bnoise" x="0" y="0" width="100%" height="100%">
<feTurbulence type="fractalNoise" baseFrequency="0.6" numOctaves="2" seed="3"/>
<feColorMatrix type="matrix" values="0 0 0 0 0.42  0 0 0 0 0.15  0 0 0 0 0.55  0 0 0 -3.2 1.75" />
<feGaussianBlur stdDeviation="0.3"/>
</filter>
<filter id="bnoise2" x="0" y="0" width="100%" height="100%">
<feTurbulence type="fractalNoise" baseFrequency="0.5" numOctaves="2" seed="11"/>
<feColorMatrix type="matrix" values="0 0 0 0 0.90  0 0 0 0 0.78  0 0 0 0 0.94  0 0 0 -3.0 1.45" />
<feGaussianBlur stdDeviation="0.3"/>
</filter>
</defs>
<rect x="838" y="75.8" width="194" height="126" fill="#eef3fd"/>
<g id="brain1" filter="url(#pinkshift)"><clipPath id="b1clip"><path d="M933.5,86.0 C932.5,85.6 931.9,84.8 930.5,83.5 C929.1,82.2 928.1,79.3 925.0,78.0 C921.9,76.7 917.6,75.7 912.0,75.8 C906.4,75.9 899.0,76.5 891.5,78.6 C884.0,80.7 873.4,84.5 867.0,88.2 C860.6,91.9 857.1,95.9 853.0,100.5 C848.9,105.1 844.8,110.8 842.3,116.0 C839.8,121.2 839.1,125.8 838.3,131.5 C837.5,137.2 836.8,143.8 837.7,150.0 C838.6,156.2 840.8,162.9 843.8,168.5 C846.8,174.1 849.8,179.2 856.0,183.8 C862.2,188.4 872.8,193.4 880.8,196.0 C888.8,198.6 897.3,199.1 903.8,199.6 C910.3,200.1 915.0,199.4 920.0,199.2 C925.0,199.0 929.3,198.6 934.0,198.6 C938.7,198.6 942.8,199.2 948.0,199.4 C953.2,199.6 957.8,200.2 965.0,199.6 C972.2,199.0 982.8,198.6 991.0,196.0 C999.2,193.4 1008.2,188.6 1014.0,184.0 C1019.8,179.4 1023.2,174.2 1026.0,168.5 C1028.8,162.8 1030.2,156.2 1030.5,150.0 C1030.8,143.8 1030.2,138.7 1028.0,131.5 C1025.8,124.3 1021.7,114.2 1017.0,107.0 C1012.3,99.8 1006.2,93.2 1000.0,88.5 C993.8,83.8 986.7,80.8 980.0,78.6 C973.3,76.4 965.7,75.8 960.0,75.6 C954.3,75.4 949.4,76.3 946.0,77.2 C942.6,78.1 941.1,79.5 939.5,81.0 C937.9,82.5 937.5,85.2 936.5,86.0 C935.5,86.8 934.5,86.4 933.5,86.0 Z"/></clipPath>
<g clip-path="url(#b1clip)">
<path d="M933.5,86.0 C932.5,85.6 931.9,84.8 930.5,83.5 C929.1,82.2 928.1,79.3 925.0,78.0 C921.9,76.7 917.6,75.7 912.0,75.8 C906.4,75.9 899.0,76.5 891.5,78.6 C884.0,80.7 873.4,84.5 867.0,88.2 C860.6,91.9 857.1,95.9 853.0,100.5 C848.9,105.1 844.8,110.8 842.3,116.0 C839.8,121.2 839.1,125.8 838.3,131.5 C837.5,137.2 836.8,143.8 837.7,150.0 C838.6,156.2 840.8,162.9 843.8,168.5 C846.8,174.1 849.8,179.2 856.0,183.8 C862.2,188.4 872.8,193.4 880.8,196.0 C888.8,198.6 897.3,199.1 903.8,199.6 C910.3,200.1 915.0,199.4 920.0,199.2 C925.0,199.0 929.3,198.6 934.0,198.6 C938.7,198.6 942.8,199.2 948.0,199.4 C953.2,199.6 957.8,200.2 965.0,199.6 C972.2,199.0 982.8,198.6 991.0,196.0 C999.2,193.4 1008.2,188.6 1014.0,184.0 C1019.8,179.4 1023.2,174.2 1026.0,168.5 C1028.8,162.8 1030.2,156.2 1030.5,150.0 C1030.8,143.8 1030.2,138.7 1028.0,131.5 C1025.8,124.3 1021.7,114.2 1017.0,107.0 C1012.3,99.8 1006.2,93.2 1000.0,88.5 C993.8,83.8 986.7,80.8 980.0,78.6 C973.3,76.4 965.7,75.8 960.0,75.6 C954.3,75.4 949.4,76.3 946.0,77.2 C942.6,78.1 941.1,79.5 939.5,81.0 C937.9,82.5 937.5,85.2 936.5,86.0 C935.5,86.8 934.5,86.4 933.5,86.0 Z" fill="#c096cf"/>
<path d="M933.5,86.0 C932.5,85.6 931.9,84.8 930.5,83.5 C929.1,82.2 928.1,79.3 925.0,78.0 C921.9,76.7 917.6,75.7 912.0,75.8 C906.4,75.9 899.0,76.5 891.5,78.6 C884.0,80.7 873.4,84.5 867.0,88.2 C860.6,91.9 857.1,95.9 853.0,100.5 C848.9,105.1 844.8,110.8 842.3,116.0 C839.8,121.2 839.1,125.8 838.3,131.5 C837.5,137.2 836.8,143.8 837.7,150.0 C838.6,156.2 840.8,162.9 843.8,168.5 C846.8,174.1 849.8,179.2 856.0,183.8 C862.2,188.4 872.8,193.4 880.8,196.0 C888.8,198.6 897.3,199.1 903.8,199.6 C910.3,200.1 915.0,199.4 920.0,199.2 C925.0,199.0 929.3,198.6 934.0,198.6 C938.7,198.6 942.8,199.2 948.0,199.4 C953.2,199.6 957.8,200.2 965.0,199.6 C972.2,199.0 982.8,198.6 991.0,196.0 C999.2,193.4 1008.2,188.6 1014.0,184.0 C1019.8,179.4 1023.2,174.2 1026.0,168.5 C1028.8,162.8 1030.2,156.2 1030.5,150.0 C1030.8,143.8 1030.2,138.7 1028.0,131.5 C1025.8,124.3 1021.7,114.2 1017.0,107.0 C1012.3,99.8 1006.2,93.2 1000.0,88.5 C993.8,83.8 986.7,80.8 980.0,78.6 C973.3,76.4 965.7,75.8 960.0,75.6 C954.3,75.4 949.4,76.3 946.0,77.2 C942.6,78.1 941.1,79.5 939.5,81.0 C937.9,82.5 937.5,85.2 936.5,86.0 C935.5,86.8 934.5,86.4 933.5,86.0 Z" fill="none" stroke="#b37bc6" stroke-width="14" filter="url(#bblur3)"/>
<ellipse cx="880" cy="190" rx="42" ry="16" fill="#d3b0d9" filter="url(#bblur6)"/>
<ellipse cx="866" cy="150" rx="12" ry="22" fill="#c8a2d3" filter="url(#bblur4)"/>
<path d="M855,100 C868,82 892,74 912,74 C926,74 933,80 933,96 L933,175 L920,175 L920,100 C920,95 917,92 912,92 C898,92 885,97 870,108 Z" fill="#a960bd" filter="url(#bblur2)"/>
<path d="M886,108 C895,107 903,109 908,114 L909.5,130 L909.5,168 C903,172 893,172 886,165 C880,156 878,140 879,125 C880,116 882,110 886,108 Z" fill="#9c52b2" filter="url(#bblur4)"/>
<ellipse cx="902" cy="138" rx="6" ry="20" fill="#9347aa" filter="url(#bblur3)"/>
<g transform="matrix(-1,0,0,1,1869.5,1.5)"><ellipse cx="880" cy="190" rx="42" ry="16" fill="#d3b0d9" filter="url(#bblur6)"/>
<ellipse cx="866" cy="150" rx="12" ry="22" fill="#c8a2d3" filter="url(#bblur4)"/>
<path d="M855,100 C868,82 892,74 912,74 C926,74 933,80 933,96 L933,175 L920,175 L920,100 C920,95 917,92 912,92 C898,92 885,97 870,108 Z" fill="#a960bd" filter="url(#bblur2)"/>
<path d="M886,108 C895,107 903,109 908,114 L909.5,130 L909.5,168 C903,172 893,172 886,165 C880,156 878,140 879,125 C880,116 882,110 886,108 Z" fill="#9c52b2" filter="url(#bblur4)"/>
<ellipse cx="902" cy="138" rx="6" ry="20" fill="#9347aa" filter="url(#bblur3)"/></g>
<ellipse cx="937.5" cy="192.5" rx="6" ry="5" fill="#a45cb9" filter="url(#bblur2)"/>
<rect x="830" y="70" width="210" height="135" filter="url(#bnoise)" opacity="0.7"/>
<rect x="830" y="70" width="210" height="135" filter="url(#bnoise2)" opacity="0.35"/>
<path d="M856.4,126.3 C857,140 860,155 866.4,168" fill="none" stroke="#ddd0e6" stroke-width="1.1"/>
<path d="M909.6,157.7 C907,168 905,175 903.6,180.6 C902.5,186 901.5,192 900.7,197.7" fill="none" stroke="#ddd0e6" stroke-width="1"/>
<path d="M918,93.2 C913,94 906,96.5 900,99.5 C894,103 890,107 887.9,110.6 C893,110.4 898,110.8 902,112 C905,113.5 907.5,116 908.5,120 C909,125 909.2,130 909.4,137 C909.5,145 909.4,152 909.3,158 L910.5,158 C910.8,150 910.8,144 911,137 C911.3,129 911.8,123 913.2,117 C915.5,109 917.8,102 918.6,97 C918.8,95 918.6,93.8 918,93.2 Z" fill="#dcdde2"/>
<g transform="matrix(-1,0,0,1,1869.5,1.5)"><path d="M856.4,126.3 C857,140 860,155 866.4,168" fill="none" stroke="#ddd0e6" stroke-width="1.1"/>
<path d="M909.6,157.7 C907,168 905,175 903.6,180.6 C902.5,186 901.5,192 900.7,197.7" fill="none" stroke="#ddd0e6" stroke-width="1"/>
<path d="M918,93.2 C913,94 906,96.5 900,99.5 C894,103 890,107 887.9,110.6 C893,110.4 898,110.8 902,112 C905,113.5 907.5,116 908.5,120 C909,125 909.2,130 909.4,137 C909.5,145 909.4,152 909.3,158 L910.5,158 C910.8,150 910.8,144 911,137 C911.3,129 911.8,123 913.2,117 C915.5,109 917.8,102 918.6,97 C918.8,95 918.6,93.8 918,93.2 Z" fill="#dcdde2"/></g>
<path d="M931,84 C932.5,86.5 935.5,86.5 937.4,84 L937.2,110 L936.4,150 L935,176 L933.6,182 L932.6,182 L932.2,176 L931.6,150 L931,110 Z" fill="#dcdde2"/>
<path d="M932.8,180 C929,186 923,192 918.5,198" fill="none" stroke="#ddd0e6" stroke-width="1"/>
</g></g>
<g id="brain2" filter="url(#pinkshift)"><clipPath id="b2clip"><path d="M933.8,340.5 C932.5,339.8 932.9,338.0 931.4,336.5 C929.9,335.0 927.9,332.6 925.0,331.5 C922.1,330.4 919.9,329.9 914.3,329.8 C908.7,329.8 898.5,329.7 891.4,331.2 C884.2,332.7 877.1,335.4 871.4,338.6 C865.7,341.8 860.5,345.8 857.1,350.5 C853.7,355.2 852.2,361.9 851.0,367.0 C849.8,372.1 849.7,376.6 850.0,381.4 C850.3,386.2 850.8,390.9 852.9,395.7 C855.0,400.5 857.9,405.5 862.9,410.0 C867.9,414.5 875.8,420.1 882.9,422.9 C890.0,425.7 898.6,426.4 905.7,426.6 C912.8,426.8 920.5,425.4 925.7,424.3 C930.9,423.2 933.2,419.9 937.0,420.0 C940.8,420.1 943.3,424.1 948.6,425.2 C953.9,426.3 961.5,427.3 968.6,426.6 C975.7,425.9 984.8,424.2 991.4,421.2 C998.0,418.2 1004.2,413.0 1008.3,408.8 C1012.4,404.6 1014.1,400.5 1015.8,395.8 C1017.5,391.1 1018.4,385.8 1018.4,380.7 C1018.4,375.6 1017.5,370.6 1015.8,365.5 C1014.1,360.4 1011.7,354.9 1008.3,350.3 C1004.9,345.7 1000.7,341.1 995.6,337.7 C990.5,334.3 983.4,331.6 977.9,330.1 C972.4,328.6 967.8,328.4 962.8,328.6 C957.8,328.8 951.2,330.1 947.6,331.2 C944.0,332.3 942.4,333.9 941.0,335.5 C939.6,337.1 940.5,339.7 939.3,340.5 C938.1,341.3 935.1,341.2 933.8,340.5 Z"/></clipPath>
<g clip-path="url(#b2clip)">
<path d="M933.8,340.5 C932.5,339.8 932.9,338.0 931.4,336.5 C929.9,335.0 927.9,332.6 925.0,331.5 C922.1,330.4 919.9,329.9 914.3,329.8 C908.7,329.8 898.5,329.7 891.4,331.2 C884.2,332.7 877.1,335.4 871.4,338.6 C865.7,341.8 860.5,345.8 857.1,350.5 C853.7,355.2 852.2,361.9 851.0,367.0 C849.8,372.1 849.7,376.6 850.0,381.4 C850.3,386.2 850.8,390.9 852.9,395.7 C855.0,400.5 857.9,405.5 862.9,410.0 C867.9,414.5 875.8,420.1 882.9,422.9 C890.0,425.7 898.6,426.4 905.7,426.6 C912.8,426.8 920.5,425.4 925.7,424.3 C930.9,423.2 933.2,419.9 937.0,420.0 C940.8,420.1 943.3,424.1 948.6,425.2 C953.9,426.3 961.5,427.3 968.6,426.6 C975.7,425.9 984.8,424.2 991.4,421.2 C998.0,418.2 1004.2,413.0 1008.3,408.8 C1012.4,404.6 1014.1,400.5 1015.8,395.8 C1017.5,391.1 1018.4,385.8 1018.4,380.7 C1018.4,375.6 1017.5,370.6 1015.8,365.5 C1014.1,360.4 1011.7,354.9 1008.3,350.3 C1004.9,345.7 1000.7,341.1 995.6,337.7 C990.5,334.3 983.4,331.6 977.9,330.1 C972.4,328.6 967.8,328.4 962.8,328.6 C957.8,328.8 951.2,330.1 947.6,331.2 C944.0,332.3 942.4,333.9 941.0,335.5 C939.6,337.1 940.5,339.7 939.3,340.5 C938.1,341.3 935.1,341.2 933.8,340.5 Z" fill="#bc92cc"/>
<g filter="url(#bblur6)">
<ellipse cx="872" cy="410" rx="30" ry="14" fill="#cfa6d6"/>
<ellipse cx="1000" cy="410" rx="26" ry="13" fill="#cda4d5"/>
<ellipse cx="934" cy="412" rx="22" ry="10" fill="#c59bd0"/>
</g>
<g filter="url(#bblur3)">
<path d="M858,372 C858,345 880,331 912,331 C926,331 932,336 932,350 L932,400 L922,400 L922,352 C922,347 918,343 912,343 C893,343 878,350 872,372 Z" fill="#a96fbf"/>
<path d="M1012,372 C1012,345 992,330 962,330 C946,330 940,336 940,350 L940,400 L949,400 L949,352 C949,346 953,342 960,342 C980,342 994,350 1000,372 Z" fill="#a96fbf"/>
</g>
<g filter="url(#bblur3)">
<ellipse cx="891.5" cy="379" rx="21" ry="24" fill="#a46bbc"/>
<ellipse cx="978.6" cy="379" rx="18.5" ry="24" fill="#a46bbc"/>
</g>
<rect x="840" y="320" width="190" height="112" filter="url(#bnoise)" opacity="0.75"/>
<rect x="840" y="320" width="190" height="112" filter="url(#bnoise2)" opacity="0.35"/>
<path d="M878.2,357 C872,364 868.4,372 868,380 C867.5,386 867.2,390 867.2,394" fill="none" stroke="#dccde6" stroke-width="1.3"/>
<path d="M854.8,392.6 C860,392 865,391.5 869.6,391.4" fill="none" stroke="#dccde6" stroke-width="1"/>
<path d="M881.9,401.2 C883,407 883.8,413 884.4,418.5" fill="none" stroke="#dccde6" stroke-width="1"/>
<path d="M995.2,352 C999,360 1001,368 1001,376 C1001,385 1000.5,392 1001.4,398.8 C1005,396 1008,394.5 1011,393.8" fill="none" stroke="#dccde6" stroke-width="1.3"/>
<path d="M975.5,405 C976.5,410 977.5,414 978,418.5" fill="none" stroke="#dccde6" stroke-width="1"/>
<path d="M925,343.5 C924,342.2 922,342.2 920,342.3 L897,342.3 C891,344 886.5,348 883.5,353.2 C889,351.8 894,351.2 897.6,351.4 C902,352.5 906,355.5 908.5,360 C910.3,364.5 910.8,370 910.8,377.8 L912.2,402.4 L914.4,402.4 L915.2,377.8 C917.5,373.5 920,371 921.3,368 C923.5,362 924.6,355 925,348 Z" fill="#dcdde2"/>
<path d="M948.5,340.6 L973.3,340.6 C980,343.5 987,348 992.6,353.2 C987,352 982,351.4 978.5,351.4 C973,352.3 970,353.6 967.5,356 C964.3,359 962.8,363.7 961.5,367.5 C960.3,371 960,373 959.6,375 L957.6,384 L958.2,402.4 L956.2,402.4 L955.5,384 C954.8,378 954.2,374 953.9,370.7 C951.5,366.5 949.5,363 948.6,360.2 C947.7,353 947.6,347 947.8,342 C947.9,341.3 948.1,340.8 948.5,340.6 Z" fill="#dcdde2"/>
<path d="M933.6,340.5 C935.5,341.5 938.5,341.5 940.6,340.5 L939.2,355 L938,369 L936.8,386 L936,386 L935.3,369 L934.4,355 Z" fill="#dcdde2"/>
</g></g>
</svg></body></html>
